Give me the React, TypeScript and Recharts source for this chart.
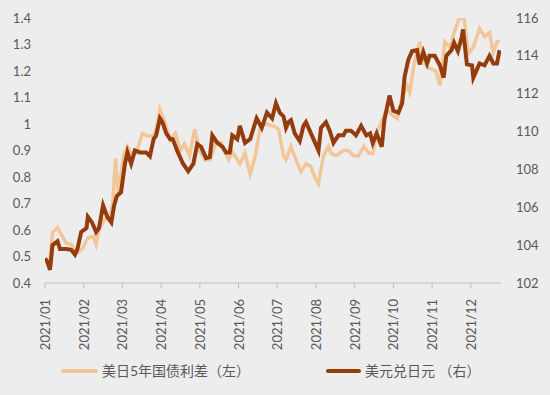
import { LineChart, Line, XAxis, YAxis, Legend } from "recharts";

// x positions as MM-DD in 2021
const spreadDates = [
  "01-01", "01-05", "01-07", "01-11", "01-15", "01-18", "01-22", "01-26", "01-31",
  "02-04", "02-08", "02-10", "02-12", "02-16", "02-20", "02-22", "02-24", "02-26",
  "03-02", "03-05", "03-08", "03-12", "03-17", "03-21", "03-26", "03-28", "03-31",
  "04-04", "04-08", "04-12", "04-16", "04-19", "04-23", "04-27",
  "05-01", "05-05", "05-09", "05-14", "05-18", "05-24", "05-27",
  "06-02", "06-06", "06-10", "06-14", "06-18", "06-23", "06-29",
  "07-02", "07-06", "07-08", "07-12", "07-16", "07-20", "07-24", "07-28", "07-31",
  "08-03", "08-07", "08-11", "08-13", "08-17", "08-23", "08-27", "08-31",
  "09-04", "09-08", "09-12", "09-15", "09-18", "09-22", "09-26", "09-30",
  "10-04", "10-08", "10-12", "10-14", "10-18", "10-22", "10-26", "10-30",
  "11-04", "11-07", "11-11", "11-15", "11-18", "11-22", "11-26", "11-29",
  "12-03", "12-08", "12-12", "12-16", "12-19", "12-22", "12-24",
];
const spreadValues = [
  0.475, 0.49, 0.59, 0.61, 0.575, 0.55, 0.545, 0.51, 0.53,
  0.57, 0.575, 0.545, 0.6, 0.64, 0.65, 0.7, 0.87, 0.74,
  0.88, 0.915, 0.89, 0.89, 0.965, 0.955, 0.955, 0.98, 1.055,
  1.005, 0.94, 0.965, 0.9, 0.925, 0.88, 0.98,
  0.9, 0.865, 0.865, 0.93, 0.93, 0.865, 0.895,
  0.85, 0.89, 0.81, 0.88, 0.99, 1.0, 0.99,
  0.98, 0.88, 0.865, 0.915, 0.865, 0.82, 0.85, 0.84, 0.8,
  0.775, 0.88, 0.915, 0.89, 0.88, 0.9, 0.9, 0.88,
  0.88, 0.915, 0.89, 0.89, 0.965, 1.01, 1.055, 1.035,
  1.02, 1.1, 1.145, 1.12, 1.235, 1.31, 1.225, 1.21,
  1.2, 1.145, 1.31, 1.29, 1.345, 1.4, 1.395, 1.265,
  1.29, 1.36, 1.33, 1.345, 1.27, 1.31, 1.315,
];

const usdJpyDates = [
  "01-01", "01-03", "01-05", "01-07", "01-11", "01-13", "01-18", "01-22", "01-25", "01-27", "01-30",
  "02-03", "02-04", "02-07", "02-10", "02-12", "02-15", "02-18", "02-21", "02-23", "02-25", "02-28",
  "03-03", "03-05", "03-08", "03-11", "03-15", "03-20", "03-23", "03-26", "03-28", "03-31",
  "04-02", "04-05", "04-08", "04-10", "04-14", "04-18", "04-22", "04-26", "04-29",
  "05-02", "05-06", "05-09", "05-11", "05-15", "05-19", "05-22", "05-25", "05-27", "05-31",
  "06-02", "06-06", "06-10", "06-15", "06-19", "06-23", "06-27", "06-30",
  "07-03", "07-06", "07-08", "07-10", "07-12", "07-15", "07-19", "07-22", "07-24", "07-27", "07-30",
  "08-03", "08-05", "08-09", "08-12", "08-15", "08-19", "08-23", "08-25", "08-29",
  "09-02", "09-06", "09-10", "09-13", "09-15", "09-18", "09-22", "09-24", "09-28",
  "10-01", "10-05", "10-08", "10-10", "10-13", "10-16", "10-20", "10-22", "10-25", "10-28", "10-30",
  "11-03", "11-07", "11-10", "11-12", "11-16", "11-18", "11-21", "11-24", "11-25", "11-28",
  "12-02", "12-03", "12-06", "12-08", "12-12", "12-16", "12-19", "12-22", "12-24",
];
const usdJpyValues = [
  103.3, 103.1, 102.7, 104.0, 104.2, 103.8, 103.8, 103.75, 103.5, 103.8, 104.7,
  104.9, 105.5, 105.2, 104.7, 104.9, 106.1, 105.5, 105.2, 106.1, 106.6, 106.8,
  108.3, 108.9, 108.3, 109.0, 108.9, 108.9, 108.7, 109.6, 109.8, 110.7,
  110.5, 109.9, 109.6, 109.6, 108.9, 108.3, 107.9, 108.3, 109.35,
  109.2, 108.6, 108.65, 109.8, 109.4, 109.2, 108.9, 108.9, 109.8, 109.6,
  110.3, 109.4, 109.6, 110.7, 110.2, 111.0, 110.7, 111.5,
  111.0, 110.8, 110.2, 110.5, 110.6, 109.9, 109.5, 110.3, 110.5, 110.05, 109.6,
  109.0, 110.2, 110.5, 110.05, 109.4, 109.8, 109.8, 110.05, 110.05,
  109.8, 110.3, 109.8, 109.9, 109.4, 109.9, 109.2, 110.6, 111.9,
  111.1, 111.0, 111.5, 112.9, 113.8, 114.25, 114.3, 113.55, 114.2, 113.6, 114.0,
  114.0, 113.5, 112.85, 114.0, 114.3, 114.7, 114.25, 115.0, 115.4, 113.55,
  113.5, 112.85, 113.3, 113.6, 113.5, 114.0, 113.6, 113.6, 114.3,
];

const monthLabels = [
  "2021/01", "2021/02", "2021/03", "2021/04", "2021/05", "2021/06",
  "2021/07", "2021/08", "2021/09", "2021/10", "2021/11", "2021/12",
];
const leftTicks = [0.4, 0.5, 0.6, 0.7, 0.8, 0.9, 1.0, 1.1, 1.2, 1.3, 1.4];
const rightTicks = [102, 104, 106, 108, 110, 112, 114, 116];

const daysIn = [31, 28, 31, 30, 31, 30, 31, 31, 30, 31, 30, 31];
const toT = (d: string) => {
  const [m, day] = d.split("-").map(Number);
  return m - 1 + (day - 1) / daysIn[m - 1];
};

const spreadData = spreadDates.map((d, i) => ({ t: toT(d), v: spreadValues[i] }));
const usdJpyData = usdJpyDates.map((d, i) => ({ t: toT(d), v: usdJpyValues[i] }));

const LIGHT = "#F1C699";
const DARK = "#943C0D";
const TEXT = "#595959";
const FONT = "Lato, 'Noto Sans CJK SC', sans-serif";

const MonthTick = ({ x, y, payload }: any) => (
  <text
    x={x}
    y={y + 9}
    transform={`rotate(-90 ${x} ${y + 9})`}
    textAnchor="end"
    dominantBaseline="central"
    fill={TEXT}
    fontSize={13}
    fontFamily={FONT}
  >
    {monthLabels[payload.value]}
  </text>
);

const LegendBox = () => (
  <div style={{ position: "relative", width: 550, height: 45, fontFamily: FONT, fontSize: 14, color: TEXT }}>
    <div style={{ position: "absolute", left: 61, top: 24, width: 37, height: 4, borderRadius: 2, background: LIGHT }} />
    <div style={{ position: "absolute", left: 102, top: 16, lineHeight: "20px" }}>美日5年国债利差（左）</div>
    <div style={{ position: "absolute", left: 326, top: 24, width: 35, height: 4, borderRadius: 2, background: DARK }} />
    <div style={{ position: "absolute", left: 365, top: 16, lineHeight: "20px" }}>美元兑日元 （右）</div>
  </div>
);

export default function App() {
  return (
    <div style={{ position: "absolute", left: 0, top: 0, width: 550, height: 395, background: "#EEEDEE" }}>
      <LineChart width={550} height={395} margin={{ top: 18, right: 0, bottom: 0, left: 0 }}>
        <XAxis
          type="number"
          dataKey="t"
          domain={[0, 11.78]}
          ticks={[0, 1, 2, 3, 4, 5, 6, 7, 8, 9, 10, 11]}
          tick={<MonthTick />}
          height={62}
          stroke="#BFBFBF"
          tickSize={5}
          interval={0}
          allowDataOverflow
        />
        <YAxis
          yAxisId="left"
          domain={[0.4, 1.4]}
          ticks={leftTicks}
          tickFormatter={(v: number) => String(Number(v.toFixed(1)))}
          width={45}
          axisLine={false}
          tickLine={false}
          tickMargin={8}
          tick={{ fill: TEXT, fontSize: 13, fontFamily: FONT }}
          allowDataOverflow
        />
        <YAxis
          yAxisId="right"
          orientation="right"
          domain={[102, 116]}
          ticks={rightTicks}
          width={49}
          axisLine={false}
          tickLine={false}
          tickMargin={9}
          tick={{ fill: TEXT, fontSize: 13, fontFamily: FONT, textAnchor: "start" }}
          allowDataOverflow
        />
        <Legend
          verticalAlign="bottom"
          height={50}
          content={<LegendBox />}
          wrapperStyle={{ left: 0, width: 550 }}
        />
        <Line
          yAxisId="left"
          data={spreadData}
          dataKey="v"
          type="linear"
          stroke={LIGHT}
          strokeWidth={3.5}
          dot={false}
          isAnimationActive={false}
        />
        <Line
          yAxisId="right"
          data={usdJpyData}
          dataKey="v"
          type="linear"
          stroke={DARK}
          strokeWidth={4}
          dot={false}
          isAnimationActive={false}
        />
      </LineChart>
    </div>
  );
}
